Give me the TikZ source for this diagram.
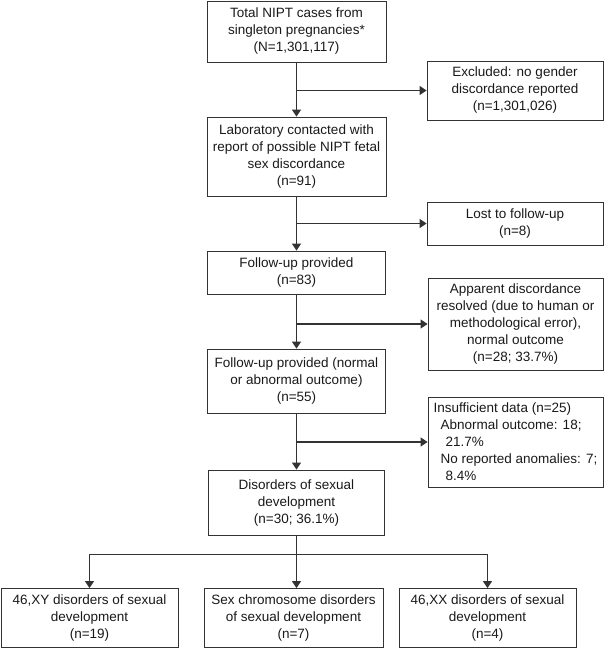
\documentclass[tikz,border=0pt]{standalone}
\usepackage{fontspec}
\setmainfont{Liberation Sans}
\usetikzlibrary{arrows.meta}
\begin{document}
\begin{tikzpicture}[x=1pt,y=-1pt,
  box/.style={draw=black!80, line width=0.9pt, align=center, inner sep=0pt,
    font=\fontsize{13.5}{17}\selectfont, text=black!90},
  conn/.style={draw=black!80, line width=1.1pt},
  arr/.style={conn, -{Triangle[length=7pt,width=9pt]}}]
\useasboundingbox (0,0) rectangle (606,649);

% main column
\node[box, minimum width=179pt, minimum height=61pt] (total) at (296.5,31.5)
  {Total NIPT cases from\\singleton pregnancies*\\(N=1,301,117)};
\node[box, minimum width=179pt, minimum height=79pt] (lab) at (296.5,156.5)
  {Laboratory contacted with\\report of possible NIPT fetal\\sex discordance\\(n=91)};
\node[box, minimum width=178pt, minimum height=43pt] (fu) at (296.5,272.5)
  {Follow-up provided\\(n=83)};
\node[box, minimum width=178pt, minimum height=64pt] (fu2) at (296.5,381)
  {Follow-up provided (normal\\or abnormal outcome)\\(n=55)};
\node[box, minimum width=176pt, minimum height=65pt] (dsd) at (296.5,502.5)
  {Disorders of sexual\\development\\(n=30; 36.1\%)};

% side boxes
\node[box, minimum width=176pt, minimum height=59pt] (excl) at (515,90.5)
  {Excluded: no gender\\discordance reported\\(n=1,301,026)};
\node[box, minimum width=176pt, minimum height=43pt] (lost) at (515,223.5)
  {Lost to follow-up\\(n=8)};
\node[box, minimum width=175pt, minimum height=92pt] (appar) at (515.5,324)
  {Apparent discordance\\resolved (due to human or\\methodological error),\\normal outcome\\(n=28; 33.7\%)};
\node[box, align=left, minimum width=175pt, minimum height=90pt] (insuf) at (515.5,442)
  {Insufficient data (n=25)\\\hspace*{7pt}Abnormal outcome: 18;\\\hspace*{12pt}21.7\%\\\hspace*{7pt}No reported anomalies: 7;\\\hspace*{12pt}8.4\%};

% bottom row
\node[box, minimum width=177pt, minimum height=59pt] (xy) at (89.5,618)
  {46,XY disorders of sexual\\development\\(n=19)};
\node[box, minimum width=179pt, minimum height=59pt] (sex) at (293.5,618)
  {Sex chromosome disorders\\of sexual development\\(n=7)};
\node[box, minimum width=177pt, minimum height=59pt] (xx) at (487.5,618)
  {46,XX disorders of sexual\\development\\(n=4)};

% main vertical connectors
\draw[arr] (total.south) -- (lab.north);
\draw[arr] (lab.south) -- (fu.north);
\draw[arr] (fu.south) -- (fu2.north);
\draw[arr] (fu2.south) -- (dsd.north);

% side branches
\coordinate (b1) at (total.south |- excl.west);
\draw[arr] (b1) -- (excl.west);
\coordinate (b2) at (lab.south |- lost.west);
\draw[arr] (b2) -- (lost.west);
\coordinate (b3) at (fu.south |- appar.west);
\draw[arr] (b3) -- (appar.west);
\coordinate (b4) at (fu2.south |- insuf.west);
\draw[arr] (b4) -- (insuf.west);

% bottom split
\draw[arr] (dsd.south) -- (dsd.south |- sex.north);
\draw[arr] (dsd.south) -- ++(0,19) -| (xy.north);
\draw[arr] (dsd.south) -- ++(0,19) -| (xx.north);
\end{tikzpicture}
\end{document}
